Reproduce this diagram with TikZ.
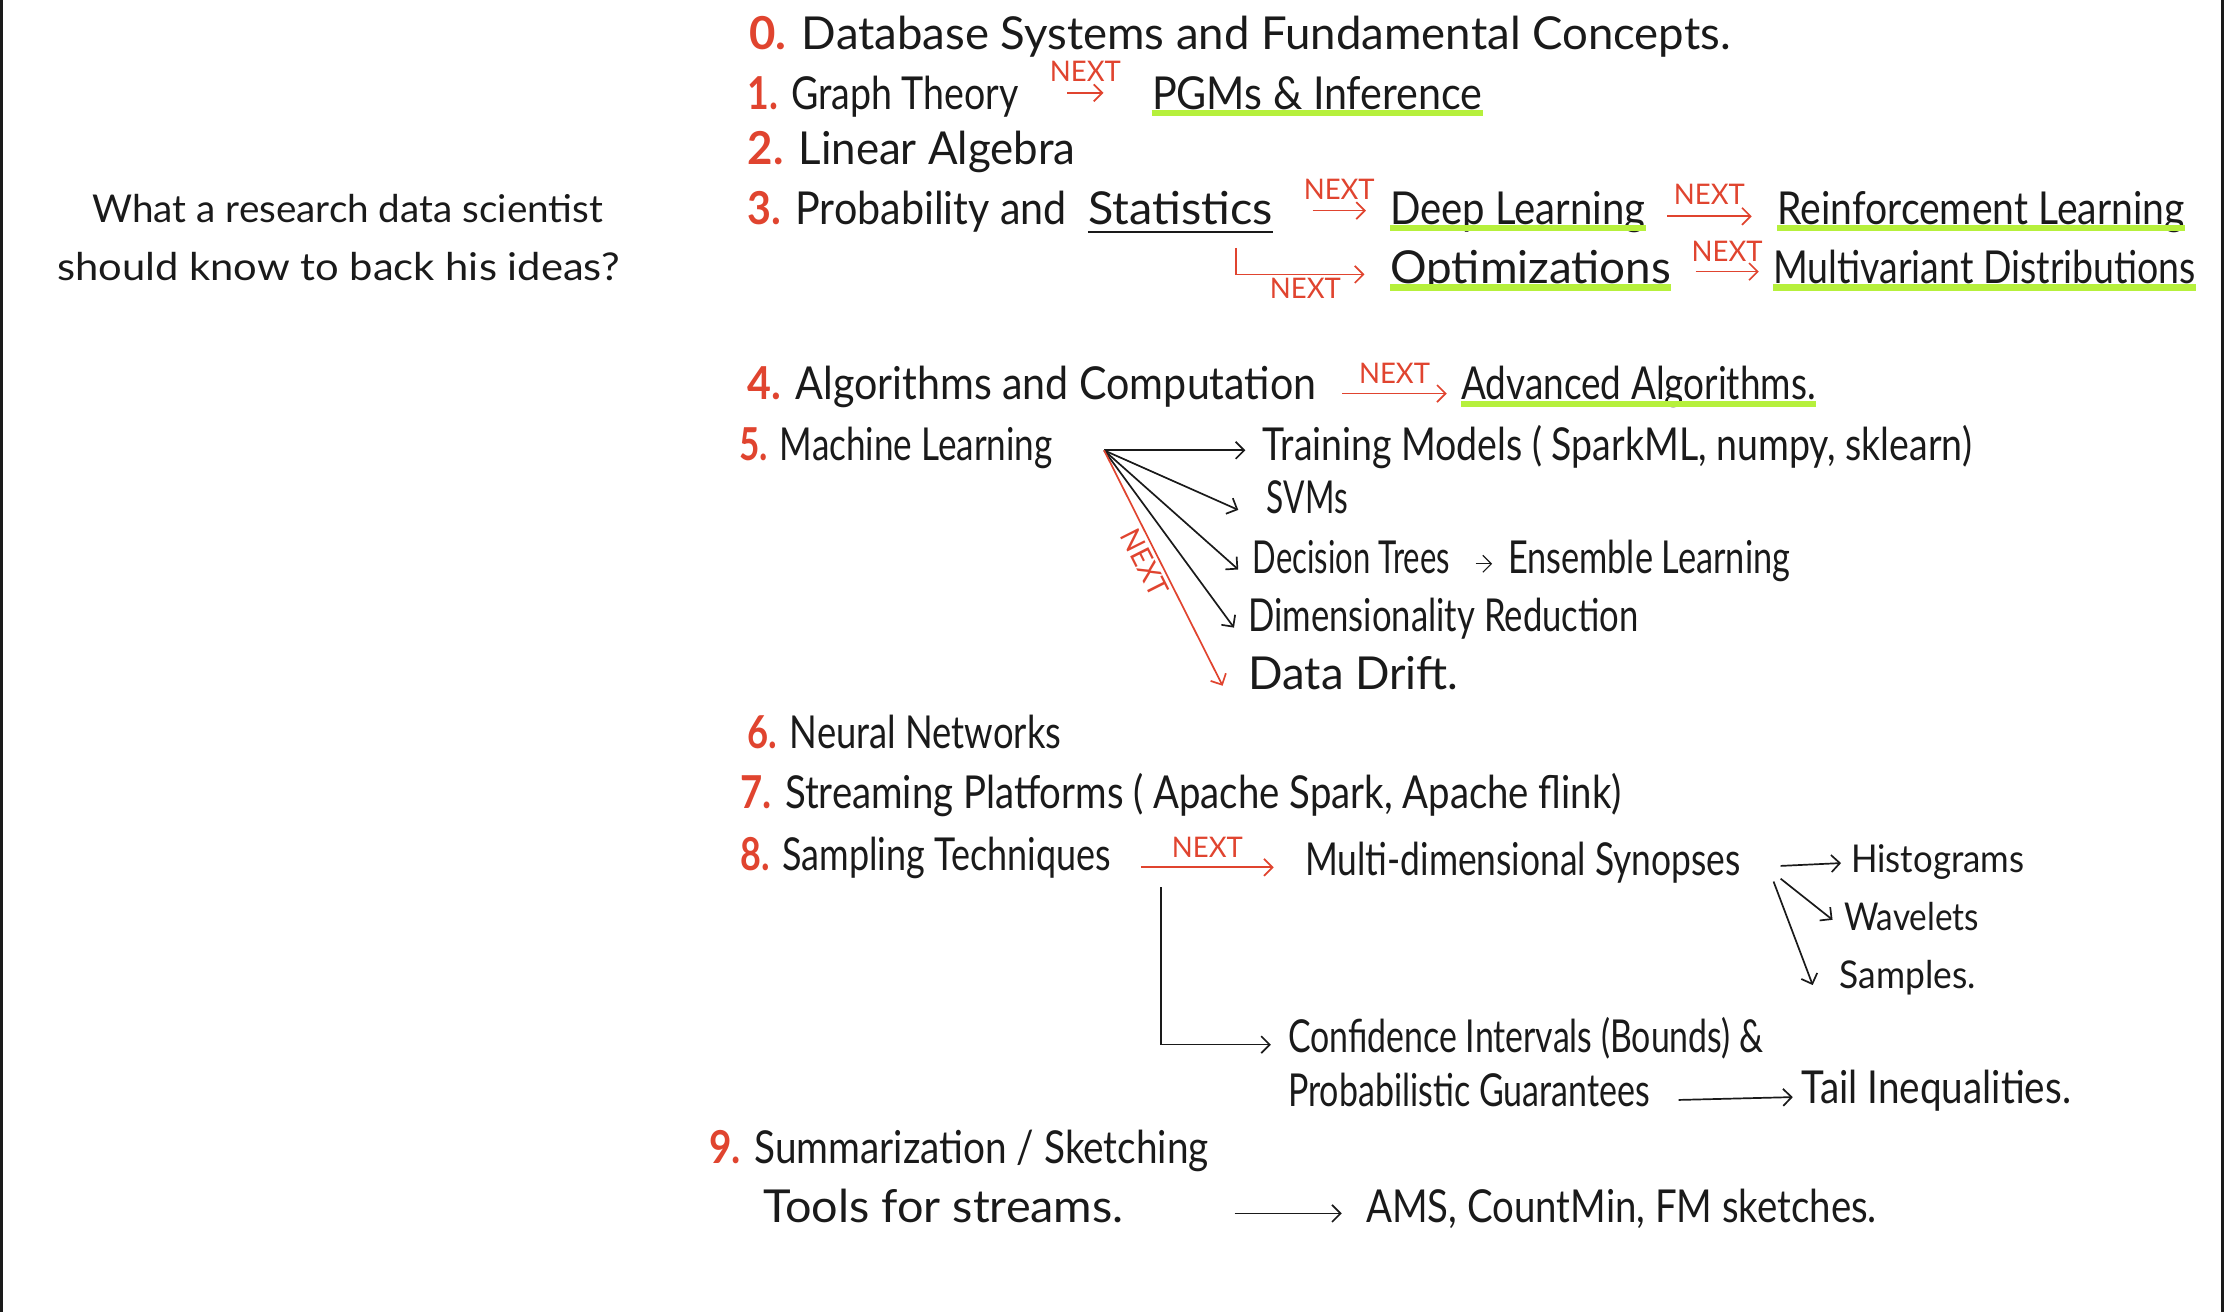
\documentclass[tikz,border=0pt]{standalone}
\usepackage{graphicx}
\usepackage{fontspec}
\setmainfont{Lato}
\usetikzlibrary{arrows.meta}
\definecolor{pen}{HTML}{1A1A1A}
\definecolor{nextred}{HTML}{E0442F}
\definecolor{marker}{HTML}{B6F03C}
\newcommand{\nr}[1]{\textcolor{nextred}{\bfseries #1}}
\newbox\fitbox

\begin{document}
\begin{tikzpicture}[x=1pt,y=-1pt,
  every node/.style={inner sep=0pt, anchor=base west, text height=0.75em, text depth=0.25em},
  fitw/.style={execute at begin node={\setbox\fitbox=\hbox\bgroup},
    execute at end node={\egroup\pgfmathsetmacro\fitsx{#1/\the\wd\fitbox}\scalebox{\fitsx}[1]{\box\fitbox}}},
  item/.style={font=\fontsize{32}{38}\selectfont, text=pen, fitw=#1},
  small/.style={font=\fontsize{27}{32}\selectfont, text=pen, fitw=#1},
  lbl/.style={font=\fontsize{20}{24}\selectfont, text=nextred, fitw=50},
  ar/.style={draw=pen, line width=1.2pt, -{Straight Barb[length=6pt,width=12pt]}},
  nx/.style={draw=nextred, line width=1.2pt, -{Straight Barb[length=6pt,width=12pt]}},
  hl/.style={draw=marker, line width=4.5pt}]
\useasboundingbox (0,0) rectangle (1568,925);
\draw[pen, line width=2pt] (0.8,0) -- (0.8,925);
\draw[pen, line width=2pt] (1567.2,0) -- (1567.2,925);

\node[small=360] (q1) at (65,157) {What a research data scientist};
\node[small=397] (q2) at (40,198) {should know to back his ideas?};

\node[item=692] (dbs) at (528,35) {\nr{0.} Database Systems and Fundamental Concepts.};
\node[item=191] (graph) at (527,77) {\nr{1.} Graph Theory};
\node[item=233] (pgm) at (812,77) {PGMs \& Inference};
\node[item=231] (linalg) at (527,116) {\nr{2.} Linear Algebra};
\node[item=225] (prob) at (527,158) {\nr{3.} Probability and};
\node[item=130] (stat) at (767,158) {Statistics};
\node[item=180] (deep) at (980,158) {Deep Learning};
\node[item=287] (rl) at (1253,158) {Reinforcement Learning};
\node[item=198] (optim) at (980,200) {Optimizations};
\node[item=298] (mvd) at (1250,200) {Multivariant Distributions};
\node[item=401] (algo) at (527,282) {\nr{4.} Algorithms and Computation};
\node[item=250] (adv) at (1030,282) {Advanced Algorithms.};
\node[item=221] (ml) at (521,325) {\nr{5.} Machine Learning};
\node[item=500] (train) at (890,325) {Training Models ( SparkML, numpy, sklearn)};
\node[item=57] (svm) at (893,362) {SVMs};
\node[item=139] (dtree) at (883,404) {Decision Trees};
\node[item=199] (ens) at (1063,404) {Ensemble Learning};
\node[item=275] (dimred) at (880,445) {Dimensionality Reduction};
\node[item=148] (drift) at (880,486) {Data Drift.};
\node[item=221] (nn) at (527,528) {\nr{6.} Neural Networks};
\node[item=621] (stream) at (522,570) {\nr{7.} Streaming Platforms ( Apache Spark, Apache flink)};
\node[item=261] (samp) at (522,614) {\nr{8.} Sampling Techniques};
\node[item=307] (syn) at (920,617) {Multi-dimensional Synopses};
\node[small=122] (hist) at (1305,615) {Histograms};
\node[small=95] (wave) at (1300,656) {Wavelets};
\node[small=96] (sampl) at (1297,697) {Samples.};
\node[item=335] (conf) at (908,742) {Confidence Intervals (Bounds) \&};
\node[item=255] (guar) at (908,780) {Probabilistic Guarantees};
\node[item=190] (tail) at (1270,778) {Tail Inequalities.};
\node[item=352] (summ) at (500,820) {\nr{9.} Summarization / Sketching};
\node[item=254] (tools) at (538,862) {Tools for streams.};
\node[item=360] (sk) at (963,862) {AMS, CountMin, FM sketches.};

\foreach \n in {pgm,deep,rl,optim,mvd,adv}
  \draw[hl] (\n.south west) -- (\n.south east);
\draw[pen, line width=1.2pt] ([yshift=-3pt]stat.south west) -- ([yshift=-3pt]stat.south east);

\draw[nx] ([xshift=34pt,yshift=9pt]graph.east) -- ([xshift=-34pt,yshift=9pt]pgm.west)
  node[lbl, midway, above=5pt] {NEXT};
\draw[nx] ([xshift=28pt,yshift=7pt]stat.east) -- ([xshift=-17pt,yshift=7pt]deep.west)
  node[lbl, midway, above=5pt] {NEXT};
\draw[nx] ([xshift=15pt,yshift=3pt]deep.east) -- ([xshift=-18pt,yshift=3pt]rl.west)
  node[lbl, midway, above=5pt] {NEXT};
\draw[nx] ([xshift=-26pt,yshift=-14pt]stat.south east) |- ([xshift=-18pt,yshift=4pt]optim.west)
  node[lbl, pos=0.77, below=9pt] {NEXT};
\draw[nx] ([xshift=17pt,yshift=6pt]optim.east) -- ([xshift=-10pt,yshift=6pt]mvd.west)
  node[lbl, midway, above=4pt] {NEXT};
\draw[nx] ([xshift=18pt,yshift=2pt]algo.east) -- ([xshift=-10pt,yshift=2pt]adv.west)
  node[lbl, midway, above=4pt] {NEXT};

\coordinate (fan) at ([xshift=36pt,yshift=5pt]ml.east);
\draw[ar] (fan) -- ([xshift=-12pt,yshift=5pt]train.west);
\draw[ar] (fan) -- ([xshift=-20pt]svm.west);
\draw[ar] (fan) -- ([xshift=-10pt]dtree.west);
\draw[ar] (fan) -- ([xshift=-10pt]dimred.west);
\draw[nx] (fan) -- ([xshift=-18pt]drift.west)
  node[lbl, sloped, pos=0.45, below=9pt] {NEXT};
\draw[ar, line width=0.8pt] ([xshift=18pt,yshift=4pt]dtree.east) -- ([xshift=-11pt,yshift=4pt]ens.west);

\draw[nx] ([xshift=21pt]samp.east) -- ([xshift=-22pt,yshift=3pt]syn.west)
  node[lbl, midway, above=4pt] {NEXT};
\draw[ar] ([xshift=28pt,yshift=4pt]syn.east) -- ([xshift=-7pt,yshift=4pt]hist.west);
\draw[ar] ([xshift=28pt,yshift=-5pt]syn.east) -- ([xshift=-8pt,yshift=5pt]wave.west);
\draw[ar] ([xshift=23pt,yshift=-7pt]syn.east) -- ([xshift=-19pt]sampl.west);
\coordinate (sdrop) at ([xshift=35pt,yshift=-14pt]samp.east);
\draw[ar] (sdrop) |- ([xshift=-12pt,yshift=3pt]conf.west);
\draw[ar] ([xshift=20pt,yshift=2pt]guar.east) -- ([xshift=-6pt,yshift=2pt]tail.west);
\draw[ar] ([xshift=78pt,yshift=4pt]tools.east) -- ([xshift=-17pt,yshift=4pt]sk.west);
\end{tikzpicture}
\end{document}
